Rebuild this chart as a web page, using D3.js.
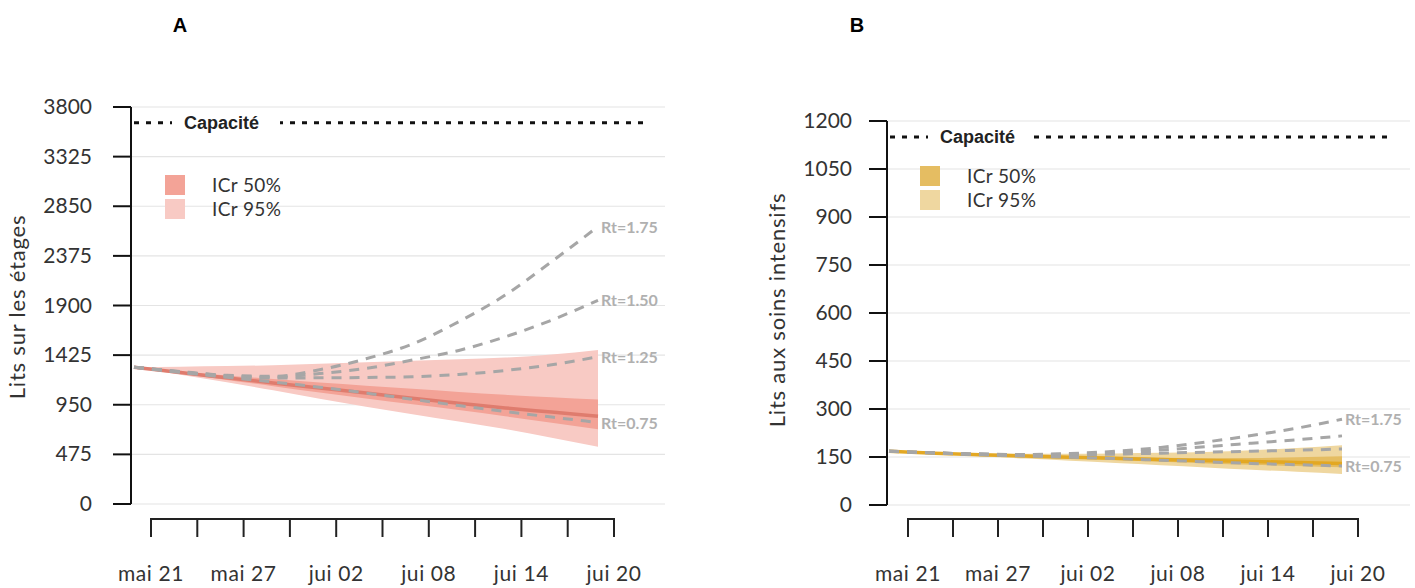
<!DOCTYPE html>
<html>
<head>
<meta charset="utf-8">
<script src="https://cdn.jsdelivr.net/npm/d3@7"></script>
<style>
body { margin: 0; background: #fff; }
svg { display: block; }
</style>
</head>
<body>
<div id="chart"></div>
<script>
// days since mai 21, every 3 days
var days = [0, 3, 6, 9, 12, 15, 18, 21, 24, 27, 30]
var tickLabels = ["mai 21", "mai 27", "jui 02", "jui 08", "jui 14", "jui 20"]

// panel A : lits sur les etages
var yTicksA = [0, 475, 950, 1425, 1900, 2375, 2850, 3325, 3800]
var capaciteA = 3650
var medianA = [1310, 1258, 1208, 1158, 1110, 1062, 1012, 965, 920, 880, 840]
var ci50LoA = [1310, 1250, 1188, 1128, 1068, 1010, 955, 900, 840, 778, 715]
var ci50HiA = [1310, 1268, 1230, 1196, 1162, 1132, 1102, 1072, 1046, 1022, 1000]
var ci95LoA = [1310, 1238, 1165, 1088, 1008, 932, 860, 790, 718, 635, 548]
var ci95HiA = [1310, 1314, 1320, 1328, 1342, 1358, 1372, 1386, 1402, 1432, 1475]
var rt175A = [1310, 1268, 1232, 1222, 1285, 1390, 1532, 1745, 2000, 2320, 2655]
var rt150A = [1310, 1266, 1228, 1214, 1248, 1298, 1378, 1470, 1600, 1760, 1950]
var rt125A = [1310, 1264, 1224, 1206, 1208, 1211, 1218, 1240, 1278, 1332, 1410]
var rt075A = [1310, 1260, 1212, 1168, 1118, 1062, 1002, 942, 885, 832, 780]

// panel B : lits aux soins intensifs
var yTicksB = [0, 150, 300, 450, 600, 750, 900, 1050, 1200]
var capaciteB = 1150
var medianB = [168, 162, 157, 153, 149, 146, 142, 139, 136, 133, 130]
var ci50LoB = [168, 161, 155, 150, 145, 140, 135, 130, 126, 122, 118]
var ci50HiB = [168, 163, 158, 155, 152, 150, 148, 147, 147, 149, 152]
var ci95LoB = [168, 160, 152, 145, 138, 131, 124, 117, 110, 104, 97]
var ci95HiB = [168, 164, 161, 160, 160, 161, 163, 166, 171, 178, 187]
var rt175B = [168, 163, 159, 158, 161, 168, 180, 197, 217, 240, 268]
var rt150B = [168, 163, 159, 157, 159, 164, 172, 182, 193, 204, 216]
var rt125B = [168, 163, 159, 156, 157, 159, 162, 165, 168, 171, 175]
var rt075B = [168, 162, 157, 153, 149, 145, 140, 135, 130, 126, 122]

var W = 1415, H = 588
var svg = d3.select("#chart").append("svg")
	.attr("width", W)
	.attr("height", H)

var font = "Lato, 'Open Sans', sans-serif"

function drawPanel(p) {
	var g = svg.append("g")

	var y = d3.scaleLinear().domain([0, p.yMax]).range([p.y0, p.y1])
	var x = d3.scaleLinear().domain([0, 30]).range([p.dataX0, p.dataX1])
	var xAxisScale = d3.scaleLinear().domain([0, 30]).range([p.axX0, p.axX1])

	// grid
	g.selectAll(".grid").data(p.yTicks).enter().append("line")
		.attr("x1", p.axisX).attr("x2", p.gridX2)
		.attr("y1", function(d){ return y(d) }).attr("y2", function(d){ return y(d) })
		.attr("stroke", "#e4e4e4").attr("stroke-width", 1.2)

	// y axis
	g.append("line")
		.attr("x1", p.axisX).attr("x2", p.axisX)
		.attr("y1", y(p.yMax)).attr("y2", y(0))
		.attr("stroke", "#111").attr("stroke-width", 2)
	g.selectAll(".ytick").data(p.yTicks).enter().append("line")
		.attr("x1", p.axisX - 18).attr("x2", p.axisX)
		.attr("y1", function(d){ return y(d) }).attr("y2", function(d){ return y(d) })
		.attr("stroke", "#111").attr("stroke-width", 2)
	g.selectAll(".ylab").data(p.yTicks).enter().append("text")
		.attr("x", p.axisX - p.labOff)
		.attr("y", function(d){ return y(d) + 7 })
		.attr("text-anchor", "end")
		.attr("font-family", font)
		.attr("font-size", 21)
		.attr("fill", "#333")
		.text(function(d){ return d })

	g.append("text")
		.attr("transform", "translate(" + p.titleX + "," + p.titleY + ") rotate(-90)")
		.attr("text-anchor", "middle")
		.attr("font-family", font)
		.attr("font-size", 22)
		.attr("letter-spacing", 0.8)
		.attr("fill", "#333")
		.text(p.title)

	// x axis (drawn apart, below the plot)
	var xticks = d3.range(0, 31, 3)
	g.append("line")
		.attr("x1", xAxisScale(0)).attr("x2", xAxisScale(30))
		.attr("y1", 519).attr("y2", 519)
		.attr("stroke", "#222").attr("stroke-width", 2)
	g.selectAll(".xtick").data(xticks).enter().append("line")
		.attr("x1", function(d){ return xAxisScale(d) }).attr("x2", function(d){ return xAxisScale(d) })
		.attr("y1", 518).attr("y2", 537)
		.attr("stroke", "#222").attr("stroke-width", 2)
	g.selectAll(".xlab").data(tickLabels).enter().append("text")
		.attr("x", function(d, i){ return xAxisScale(i * 6) })
		.attr("y", 581)
		.attr("text-anchor", "middle")
		.attr("font-family", font)
		.attr("font-size", 21)
		.attr("letter-spacing", 0.6)
		.attr("fill", "#333")
		.text(function(d){ return d })

	// bands
	var area = function(lo, hi) {
		return d3.area()
			.x(function(d, i){ return x(days[i]) })
			.y0(function(d, i){ return y(lo[i]) })
			.y1(function(d, i){ return y(hi[i]) })
			.curve(d3.curveMonotoneX)(days)
	}
	g.append("path").attr("d", area(p.ci95Lo, p.ci95Hi)).attr("fill", p.c95)
	g.append("path").attr("d", area(p.ci50Lo, p.ci50Hi)).attr("fill", p.c50)

	var line = d3.line()
		.x(function(d, i){ return x(days[i]) })
		.y(function(d){ return y(d) })
		.curve(d3.curveMonotoneX)

	g.append("path").attr("d", line(p.median))
		.attr("fill", "none").attr("stroke", p.cMed).attr("stroke-width", 3.5)

	g.selectAll(".rt").data(p.rt).enter().append("path")
		.attr("d", function(d){ return line(d.v) })
		.attr("fill", "none")
		.attr("stroke", "#a6a6a6")
		.attr("stroke-width", 3)
		.attr("stroke-dasharray", "10,8")

	g.selectAll(".rtlab").data(p.rt.filter(function(d){ return d.label })).enter().append("text")
		.attr("x", x(30) + 3)
		.attr("y", function(d){ return y(d.v[d.v.length - 1]) + 6 })
		.attr("font-family", font)
		.attr("font-weight", "bold")
		.attr("font-size", 16)
		.attr("fill", "#b0b0b0")
		.text(function(d){ return d.label })

	// capacite
	var cy = y(p.capacite)
	g.append("line")
		.attr("x1", p.capX0).attr("x2", p.capX1)
		.attr("y1", cy).attr("y2", cy)
		.attr("stroke", "#111").attr("stroke-width", 3)
		.attr("stroke-dasharray", "5,7")
	g.append("rect")
		.attr("x", p.capTextX - 12).attr("y", cy - 11)
		.attr("width", p.capGap).attr("height", 22)
		.attr("fill", "#fff")
	g.append("text")
		.attr("x", p.capTextX).attr("y", cy + 6)
		.attr("font-family", "'Liberation Sans', Arial, sans-serif")
		.attr("font-weight", "bold")
		.attr("font-size", 18)
		.attr("fill", "#222")
		.text("Capacité")

	// legend
	var leg = [{t: "ICr 50%", c: p.c50}, {t: "ICr 95%", c: p.c95}]
	var lg = g.selectAll(".leg").data(leg).enter().append("g")
		.attr("transform", function(d, i){ return "translate(" + p.legX + "," + (p.legY + i * 24) + ")" })
	lg.append("rect").attr("width", 20).attr("height", 20).attr("fill", function(d){ return d.c })
	lg.append("text")
		.attr("x", 47).attr("y", 17)
		.attr("font-family", font)
		.attr("font-size", 19)
		.attr("letter-spacing", 0.4)
		.attr("fill", "#333")
		.text(function(d){ return d.t })

	// panel letter
	svg.append("text")
		.attr("x", p.letterX).attr("y", 32)
		.attr("text-anchor", "middle")
		.attr("font-family", "'Liberation Sans', Arial, sans-serif")
		.attr("font-weight", "bold")
		.attr("font-size", 20)
		.text(p.letter)
}

drawPanel({
	letter: "A", letterX: 180,
	yMax: 3800, yTicks: yTicksA, y0: 504, y1: 107,
	axisX: 131, gridX2: 665, labOff: 39,
	dataX0: 134, dataX1: 598, axX0: 151, axX1: 614,
	title: "Lits sur les étages", titleX: 25, titleY: 307,
	median: medianA, ci50Lo: ci50LoA, ci50Hi: ci50HiA, ci95Lo: ci95LoA, ci95Hi: ci95HiA,
	rt: [{v: rt175A, label: "Rt=1.75"}, {v: rt150A, label: "Rt=1.50"},
		{v: rt125A, label: "Rt=1.25"}, {v: rt075A, label: "Rt=0.75"}],
	c50: "#f3a397", c95: "#f8cac4", cMed: "#df7c6e",
	capacite: capaciteA, capX0: 134, capX1: 648, capTextX: 184, capGap: 108,
	legX: 165, legY: 175
})

drawPanel({
	letter: "B", letterX: 857,
	yMax: 1200, yTicks: yTicksB, y0: 505, y1: 121,
	axisX: 887, gridX2: 1410, labOff: 35,
	dataX0: 889, dataX1: 1342, axX0: 908, axX1: 1358,
	title: "Lits aux soins intensifs", titleX: 785, titleY: 310,
	median: medianB, ci50Lo: ci50LoB, ci50Hi: ci50HiB, ci95Lo: ci95LoB, ci95Hi: ci95HiB,
	rt: [{v: rt175B, label: "Rt=1.75"}, {v: rt150B}, {v: rt125B}, {v: rt075B, label: "Rt=0.75"}],
	c50: "#e5bd62", c95: "#efd7a0", cMed: "#e3a823",
	capacite: capaciteB, capX0: 890, capX1: 1392, capTextX: 940, capGap: 104,
	legX: 920, legY: 166
})
</script>
</body>
</html>
